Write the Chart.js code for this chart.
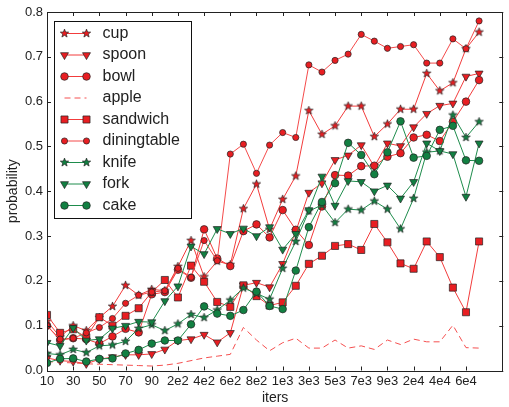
<!DOCTYPE html>
<html>
<head>
<meta charset="utf-8">
<script src="https://cdn.jsdelivr.net/npm/chart.js@4/dist/chart.umd.min.js"></script>
<style>
html, body { margin: 0; padding: 0; background: #fff; }
#wrap { width: 509px; height: 407px; }
</style>
</head>
<body>
<div id="wrap"><canvas id="myChart" width="509" height="407"></canvas></div>
<script>
// iteration values, one per point
const iters = [10, 20, 30, 40, 50, 60, 70, 80, 90,
  100, 200, 300, 400, 500, 600, 700, 800, 900,
  1000, 2000, 3000, 4000, 5000, 6000, 7000, 8000, 9000,
  10000, 20000, 30000, 40000, 50000, 60000, 70000];
const tickLabels = ['10', '30', '50', '70', '90', '2e2', '4e2', '6e2', '8e2', '1e3',
  '3e3', '5e3', '7e3', '9e3', '2e4', '4e4', '6e4'];

const cup = [0.11, 0.075, 0.1, 0.089, 0.118, 0.143, 0.19, 0.168, 0.181, 0.178, 0.232, 0.29,
  0.209, 0.244, 0.236, 0.361, 0.416, 0.315, 0.382, 0.434, 0.58, 0.527, 0.546, 0.59, 0.59,
  0.522, 0.55, 0.583, 0.583, 0.663, 0.624, 0.642, 0.718, 0.755];
const spoon = [0.028, 0.022, 0.02, 0.015, 0.025, 0.03, 0.035, 0.035, 0.037, 0.047, 0.067, 0.07,
  0.08, 0.063, 0.084, 0.19, 0.196, 0.186, 0.238, 0.31, 0.397, 0.418, 0.47, 0.48, 0.503,
  0.455, 0.507, 0.501, 0.543, 0.573, 0.591, 0.596, 0.656, 0.663];
const bowl = [0.1, 0.068, 0.072, 0.07, 0.06, 0.076, 0.093, 0.085, 0.17, 0.175, 0.225, 0.207,
  0.315, 0.25, 0.233, 0.311, 0.326, 0.297, 0.358, 0.314, 0.28, 0.366, 0.436, 0.435, 0.456,
  0.457, 0.477, 0.485, 0.52, 0.526, 0.512, 0.555, 0.6, 0.648];
const apple = [0.02, 0.018, 0.017, 0.015, 0.014, 0.013, 0.012, 0.011, 0.01, 0.012, 0.016, 0.022,
  0.028, 0.032, 0.036, 0.096, 0.068, 0.044, 0.062, 0.072, 0.05, 0.05, 0.068, 0.05, 0.055,
  0.047, 0.068, 0.058, 0.07, 0.064, 0.064, 0.101, 0.051, 0.05];
const sandwich = [0.124, 0.084, 0.092, 0.074, 0.119, 0.1, 0.122, 0.139, 0.175, 0.202, 0.163, 0.234,
  0.198, 0.153, 0.142, 0.19, 0.166, 0.145, 0.152, 0.189, 0.238, 0.256, 0.278, 0.282, 0.269,
  0.327, 0.286, 0.239, 0.227, 0.288, 0.253, 0.185, 0.13, 0.288];
const diningtable = [0.1, 0.07, 0.072, 0.084, 0.096, 0.116, 0.15, 0.168, 0.175, 0.178, 0.228, 0.208,
  0.29, 0.245, 0.483, 0.505, 0.44, 0.503, 0.531, 0.52, 0.682, 0.666, 0.692, 0.706, 0.75,
  0.735, 0.719, 0.723, 0.727, 0.686, 0.686, 0.74, 0.718, 0.78];
const knife = [0.038, 0.035, 0.047, 0.04, 0.055, 0.057, 0.065, 0.094, 0.102, 0.089, 0.104, 0.125,
  0.118, 0.135, 0.157, 0.184, 0.172, 0.159, 0.228, 0.288, 0.356, 0.369, 0.33, 0.36, 0.358,
  0.378, 0.36, 0.316, 0.384, 0.487, 0.49, 0.57, 0.52, 0.555];
const fork = [0.062, 0.055, 0.095, 0.067, 0.07, 0.094, 0.1, 0.109, 0.108, 0.155, 0.188, 0.277,
  0.26, 0.316, 0.305, 0.317, 0.3, 0.32, 0.27, 0.305, 0.358, 0.433, 0.368, 0.423, 0.421,
  0.4, 0.413, 0.384, 0.421, 0.507, 0.49, 0.483, 0.388, 0.507];
const cake = [0.017, 0.026, 0.027, 0.02, 0.026, 0.027, 0.038, 0.046, 0.06, 0.067, 0.067, 0.103,
  0.143, 0.127, 0.122, 0.135, 0.176, 0.144, 0.137, 0.223, 0.32, 0.376, 0.418, 0.508, 0.481,
  0.438, 0.487, 0.556, 0.475, 0.479, 0.537, 0.546, 0.469, 0.468];

const RED_LINE = 'rgb(242,60,60)';
const RED_FILL = 'rgb(232,30,34)';
const GREEN_LINE = 'rgb(30,140,76)';
const GREEN_FILL = 'rgb(18,128,66)';
const EDGE = '#222';

// filled five point star, like the matplotlib '*' marker
function makeStar(fill, r) {
  const c = document.createElement('canvas');
  const s = Math.ceil(r * 2 + 4);
  c.width = s; c.height = s;
  const g = c.getContext('2d');
  g.translate(s / 2, s / 2);
  g.beginPath();
  for (let i = 0; i < 10; i++) {
    const rad = (i % 2 === 0) ? r : r * 0.42;
    const a = -Math.PI / 2 + i * Math.PI / 5;
    g.lineTo(Math.cos(a) * rad, Math.sin(a) * rad);
  }
  g.closePath();
  g.fillStyle = fill;
  g.fill();
  g.lineWidth = 0.7;
  g.strokeStyle = EDGE;
  g.stroke();
  return c;
}
const redStar = makeStar(RED_FILL, 4.4);
const greenStar = makeStar(GREEN_FILL, 4.4);

function pts(arr) {
  return arr.map((v, i) => ({x: i, y: v}));
}

const series = [
  {label: 'cup', data: cup, line: RED_LINE, fill: RED_FILL, style: redStar, radius: 4.4, rot: 0},
  {label: 'spoon', data: spoon, line: RED_LINE, fill: RED_FILL, style: 'triangle', radius: 4.6, rot: 180},
  {label: 'bowl', data: bowl, line: RED_LINE, fill: RED_FILL, style: 'circle', radius: 3.8, rot: 0},
  {label: 'apple', data: apple, line: 'rgb(245,80,80)', fill: RED_FILL, style: 'circle', radius: 0, rot: 0, dash: [6, 4]},
  {label: 'sandwich', data: sandwich, line: RED_LINE, fill: RED_FILL, style: 'rect', radius: 5, rot: 0},
  {label: 'diningtable', data: diningtable, line: 'rgb(244,75,75)', fill: RED_FILL, style: 'circle', radius: 3.1, rot: 0},
  {label: 'knife', data: knife, line: GREEN_LINE, fill: GREEN_FILL, style: greenStar, radius: 4.4, rot: 0},
  {label: 'fork', data: fork, line: GREEN_LINE, fill: GREEN_FILL, style: 'triangle', radius: 4.6, rot: 180},
  {label: 'cake', data: cake, line: GREEN_LINE, fill: GREEN_FILL, style: 'circle', radius: 3.8, rot: 0},
];

const datasets = series.map((s, i) => ({
  label: s.label,
  data: pts(s.data),
  borderColor: s.line,
  borderWidth: 1,
  borderDash: s.dash || [],
  backgroundColor: s.fill,
  pointStyle: s.style,
  pointRadius: s.radius,
  pointHoverRadius: s.radius,
  pointRotation: s.rot,
  pointBackgroundColor: s.fill,
  pointBorderColor: EDGE,
  pointBorderWidth: 0.7,
  fill: false,
  tension: 0,
  order: series.length - i,
}));

// frame, inward ticks and the legend, drawn like matplotlib does
const frameAndLegend = {
  id: 'frameAndLegend',
  afterDatasetsDraw(chart) {
    const ctx = chart.ctx;
    const ca = chart.chartArea;
    const xs = chart.scales.x;
    const ys = chart.scales.y;
    ctx.save();
    ctx.strokeStyle = '#222';
    ctx.lineWidth = 1;
    ctx.strokeRect(Math.round(ca.left) + 0.5, Math.round(ca.top) + 0.5,
      Math.round(ca.right - ca.left) - 1, Math.round(ca.bottom - ca.top));
    ctx.beginPath();
    xs.ticks.forEach(t => {
      const px = Math.round(xs.getPixelForValue(t.value)) + 0.5;
      ctx.moveTo(px, ca.bottom); ctx.lineTo(px, ca.bottom - 4);
      ctx.moveTo(px, ca.top); ctx.lineTo(px, ca.top + 4);
    });
    ys.ticks.forEach(t => {
      const py = Math.round(ys.getPixelForValue(t.value)) + 0.5;
      ctx.moveTo(ca.left, py); ctx.lineTo(ca.left + 4, py);
      ctx.moveTo(ca.right, py); ctx.lineTo(ca.right - 4, py);
    });
    ctx.stroke();

    // legend box
    const bx = Math.round(ca.left) + 7.5;
    const by = Math.round(ca.top) + 9.5;
    const bw = 137, bh = 197;
    ctx.fillStyle = '#fff';
    ctx.fillRect(bx, by, bw, bh);
    ctx.strokeStyle = '#111';
    ctx.strokeRect(bx, by, bw, bh);
    ctx.font = '16px "Liberation Sans", Arial, sans-serif';
    ctx.textBaseline = 'middle';
    ctx.textAlign = 'left';
    series.forEach((s, i) => {
      const y = by + 12 + i * 21.5;
      const x0 = bx + 10, x1 = bx + 32;
      ctx.strokeStyle = s.line;
      ctx.lineWidth = 1;
      ctx.setLineDash(s.dash || []);
      ctx.beginPath();
      ctx.moveTo(x0, y); ctx.lineTo(x1, y);
      ctx.stroke();
      ctx.setLineDash([]);
      if (s.radius > 0) {
        const opts = {pointStyle: s.style, radius: s.radius, rotation: s.rot, borderWidth: 0.7};
        ctx.lineWidth = 0.7;
        [x0, x1].forEach(px => {
          ctx.fillStyle = s.fill;
          ctx.strokeStyle = EDGE;
          Chart.helpers.drawPoint(ctx, opts, px, y);
        });
      }
      ctx.fillStyle = '#222';
      ctx.fillText(s.label, bx + 48, y);
    });
    ctx.restore();
  }
};

const tickFont = {family: '"Liberation Sans", Arial, sans-serif', size: 13};

const ctx = document.getElementById('myChart');
const myChart = new Chart(ctx, {
  type: 'line',
  data: {datasets: datasets},
  options: {
    responsive: false,
    animation: false,
    devicePixelRatio: 1,
    layout: {padding: {top: 12, right: 2, left: 0, bottom: 0}},
    plugins: {
      legend: {display: false},
      tooltip: {enabled: false},
    },
    scales: {
      x: {
        type: 'linear',
        min: 0,
        max: 34.85,
        grid: {display: false, drawTicks: false},
        border: {display: false},
        afterBuildTicks: (scale) => {
          scale.ticks = tickLabels.map((t, i) => ({value: i * 2}));
        },
        afterFit: (scale) => { scale.height = 36.5; },
        ticks: {
          autoSkip: false,
          maxRotation: 0,
          padding: 3,
          color: '#222',
          font: tickFont,
          callback: (v, i) => tickLabels[i],
        },
        title: {
          display: true,
          text: 'iters',
          color: '#222',
          font: {family: '"Liberation Sans", Arial, sans-serif', size: 14},
          padding: {top: 0, bottom: 0},
        },
      },
      y: {
        min: 0,
        max: 0.8,
        grid: {display: false, drawTicks: false},
        border: {display: false},
        afterFit: (scale) => { scale.width = 47; },
        ticks: {
          stepSize: 0.1,
          padding: 4,
          color: '#222',
          font: tickFont,
          callback: (v) => v.toFixed(1),
        },
        title: {
          display: true,
          text: 'probability',
          color: '#222',
          font: {family: '"Liberation Sans", Arial, sans-serif', size: 14},
          padding: {top: 5, bottom: 0},
        },
      },
    },
  },
  plugins: [frameAndLegend],
});
</script>
</body>
</html>
